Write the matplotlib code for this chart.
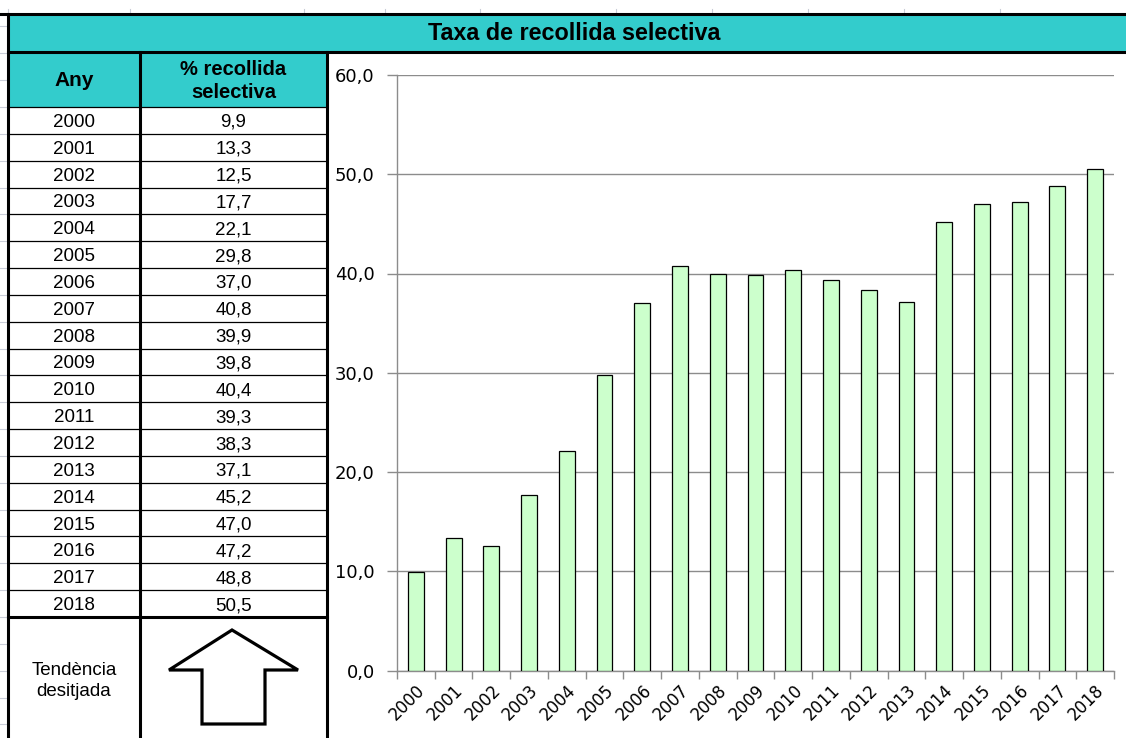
import matplotlib
matplotlib.use("Agg")
import matplotlib.pyplot as plt
import matplotlib.transforms as mtransforms
import numpy as np
from matplotlib.patches import Rectangle, Polygon

years = [2000, 2001, 2002, 2003, 2004, 2005, 2006, 2007, 2008, 2009,
         2010, 2011, 2012, 2013, 2014, 2015, 2016, 2017, 2018]
pct = [9.9, 13.3, 12.5, 17.7, 22.1, 29.8, 37.0, 40.8, 39.9, 39.8,
       40.4, 39.3, 38.3, 37.1, 45.2, 47.0, 47.2, 48.8, 50.5]

title = "Taxa de recollida selectiva"
col_heads = ["Any", "% recollida\nselectiva"]
trend_label = "Tendència\ndesitjada"

teal = "#33CCCC"
bar_col = "#CCFFCC"
W, H = 1126, 738

fig = plt.figure(figsize=(W / 100, H / 100), dpi=100)
bg = fig.add_axes([0, 0, 1, 1])
bg.set_xlim(0, W)
bg.set_ylim(H, 0)
bg.axis("off")

# faint spreadsheet gridlines
faint = "#c9cdd8"
for x in [8, 130, 304, 385, 480, 616, 712, 808, 904, 1000]:
    bg.plot([x, x], [9, 14], color=faint, lw=0.8)
row_h = (617 - 107) / 19
for k in range(-4, 26):
    y = 107 + k * row_h
    if 0 < y < H:
        bg.plot([0, 7], [y, y], color=faint, lw=0.8)

# title bar
bg.add_patch(Rectangle((8, 14), W - 8, 38, facecolor=teal, edgecolor="none"))
bg.text(574, 33.5, title, ha="center", va="center", fontsize=16.8,
        fontweight="bold", family="Liberation Sans")

# header cells
bg.add_patch(Rectangle((8, 52), 327 - 8, 55, facecolor=teal, edgecolor="none"))
bg.text(74, 80, col_heads[0], ha="center", va="center", fontsize=15,
        fontweight="bold", family="Liberation Sans")
bg.text(233.5, 81, col_heads[1], ha="center", va="center", fontsize=14.5,
        fontweight="bold", family="Liberation Sans", linespacing=1.3)

# rows
for i, (yr, v) in enumerate(zip(years, pct)):
    yc = 107 + (i + 0.5) * row_h + 2
    bg.text(74, yc, str(yr), ha="center", va="center", fontsize=13.5,
            family="Liberation Sans")
    bg.text(233.5, yc, f"{v:.1f}".replace(".", ","), ha="center", va="center",
            fontsize=13.5, family="Liberation Sans")
    if i > 0:
        yl = 107 + i * row_h
        bg.plot([8, 327], [yl, yl], color="black", lw=0.9)
bg.plot([8, 327], [107, 107], color="black", lw=0.9)

# trend cell
bg.text(74, 681, trend_label, ha="center", va="center", fontsize=13.5,
        family="Liberation Sans", linespacing=1.25)
arrow = [(232, 630), (298, 670), (265, 670), (265, 724), (202, 724),
         (202, 670), (169, 670)]
bg.add_patch(Polygon(arrow, closed=True, facecolor="white", edgecolor="black",
                     lw=2.3, joinstyle="miter"))

# thick borders
thick = 2.2
bg.plot([0, W], [14, 14], color="black", lw=thick)
bg.plot([8, W], [52, 52], color="black", lw=thick)
bg.plot([8, 327], [617, 617], color="black", lw=thick)
bg.plot([8, 8], [14, H], color="black", lw=thick)
bg.plot([140, 140], [52, H], color="black", lw=thick)
bg.plot([327, 327], [52, H], color="black", lw=thick)

# chart
x0, x1 = 397, 1114
y0, y1 = 670.5, 75
ax = fig.add_axes([x0 / W, (H - y0) / H, (x1 - x0) / W, (y0 - y1) / H])
ax.set_facecolor("none")
pos = np.arange(len(years))
ax.bar(pos, pct, width=0.42, color=bar_col, edgecolor="black", lw=0.9,
       zorder=3)
ax.set_xlim(-0.5, len(years) - 0.5)
ax.set_ylim(0, 60)
ax.set_yticks(np.arange(0, 61, 10))
ax.set_yticklabels([f"{t:.1f}".replace(".", ",") for t in np.arange(0, 61, 10)],
                   fontsize=13)
ax.yaxis.grid(True, color="#8c8c8c", lw=1.0, zorder=0)
ax.set_axisbelow(True)
ax.set_xticks(np.arange(-0.5, len(years), 1))
ax.set_xticklabels([])
ax.set_xticks(pos, minor=True)
ax.set_xticklabels([str(y) for y in years], minor=True, rotation=45,
                   ha="right", rotation_mode="anchor", fontsize=12)
shift = mtransforms.ScaledTranslation(-0.04, -0.04, fig.dpi_scale_trans)
for lbl in ax.get_xticklabels(minor=True):
    lbl.set_transform(lbl.get_transform() + shift)
ax.tick_params(axis="x", which="major", length=6, color="#8c8c8c", width=1)
ax.tick_params(axis="x", which="minor", length=0, pad=8)
ax.tick_params(axis="y", length=7, color="#8c8c8c", width=1, pad=9)
for s in ["top", "right"]:
    ax.spines[s].set_visible(False)
for s in ["left", "bottom"]:
    ax.spines[s].set_color("#8c8c8c")
    ax.spines[s].set_linewidth(1)

fig.savefig("out.png", dpi=100)
